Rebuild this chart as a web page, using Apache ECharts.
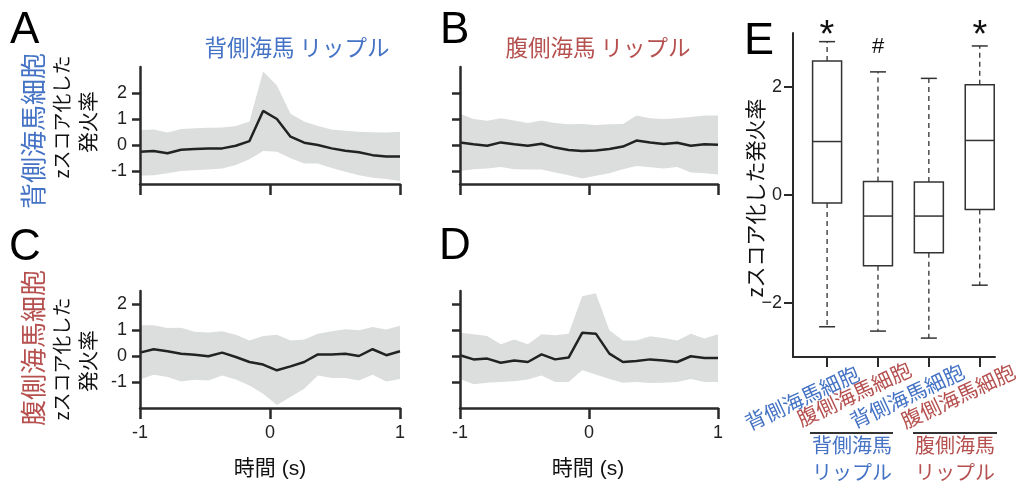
<!DOCTYPE html>
<html>
<head>
<meta charset="utf-8">
<script src="https://cdn.jsdelivr.net/npm/echarts@6/dist/echarts.min.js"></script>
<style>
html,body{margin:0;padding:0;background:#fff;}
#c{width:1020px;height:483px;}
</style>
</head>
<body>
<div id="c"></div>
<script>
// ---- data ----
const times = [-1, -0.895, -0.789, -0.684, -0.579, -0.474, -0.368, -0.263, -0.158, -0.053, 0.053, 0.158, 0.263, 0.368, 0.474, 0.579, 0.684, 0.789, 0.895, 1];

const meanA  = [-0.26,-0.23,-0.32,-0.18,-0.15,-0.13,-0.13,-0.03,0.15,1.31,1.0,0.32,0.09,0.0,-0.13,-0.22,-0.28,-0.39,-0.44,-0.44];
const upperA = [0.58,0.6,0.48,0.62,0.64,0.66,0.67,0.73,0.9,2.83,2.29,1.2,0.9,0.73,0.6,0.55,0.51,0.49,0.48,0.51];
const lowerA = [-1.18,-1.16,-1.09,-1.0,-0.97,-0.94,-0.9,-0.77,-0.55,-0.23,-0.26,-0.51,-0.71,-0.71,-0.88,-1.03,-1.16,-1.26,-1.31,-1.38];

const meanB  = [0.1,0.03,-0.03,0.1,0.03,-0.03,0.05,-0.1,-0.19,-0.23,-0.21,-0.15,-0.06,0.17,0.1,0.04,0.09,-0.03,0.03,0.01];
const upperB = [1.2,1.0,0.93,1.03,0.94,0.85,0.94,0.85,0.8,0.81,0.77,0.8,0.81,1.13,1.03,1.0,1.03,1.08,1.13,1.13];
const lowerB = [-1.0,-0.93,-0.9,-0.85,-0.93,-0.94,-0.94,-1.06,-1.16,-1.29,-1.18,-1.09,-0.93,-0.81,-0.86,-0.9,-0.85,-1.06,-1.09,-1.13];

const meanC  = [0.13,0.26,0.18,0.09,0.05,-0.01,0.13,-0.04,-0.23,-0.33,-0.55,-0.4,-0.23,0.06,0.06,0.09,0.0,0.26,0.03,0.18];
const upperC = [1.18,1.18,1.08,1.09,0.93,0.9,0.95,0.82,0.6,0.77,0.82,0.6,0.63,0.86,0.95,1.03,0.99,1.12,1.02,1.16];
const lowerC = [-0.9,-0.72,-0.81,-0.98,-0.91,-0.94,-0.75,-0.9,-1.13,-1.45,-1.88,-1.58,-1.26,-0.75,-0.85,-0.85,-0.94,-0.72,-0.98,-0.88];

const meanD  = [0.03,-0.13,-0.1,-0.26,-0.17,-0.23,0.06,-0.13,-0.06,0.89,0.86,0.09,-0.23,-0.19,-0.13,-0.17,-0.23,-0.01,-0.08,-0.08];
const upperD = [0.89,0.84,0.77,0.45,0.63,0.45,0.84,0.8,0.86,2.3,2.41,0.99,0.6,0.6,0.76,0.69,0.6,0.86,0.67,0.84];
const lowerD = [-0.88,-1.09,-1.03,-1.0,-0.97,-0.9,-0.75,-1.0,-1.0,-0.55,-0.71,-0.88,-1.03,-1.0,-1.04,-1.03,-1.0,-0.88,-1.0,-1.0];

const timeTicks = [-1, 0, 1];
const rateTicks = [-1, 0, 1, 2];

// panel E box plot
const boxCategories = ['背側海馬細胞', '腹側海馬細胞', '背側海馬細胞', '腹側海馬細胞'];
const boxPositions = [1, 2, 3, 4];
const boxMax    = [2.84, 2.28, 2.16, 2.76];
const boxQ3     = [2.48, 0.25, 0.24, 2.04];
const boxMedian = [0.99, -0.39, -0.39, 1.01];
const boxQ1     = [-0.15, -1.31, -1.07, -0.27];
const boxMin    = [-2.44, -2.52, -2.65, -1.67];
const boxMarks  = ['*', '#', '', '*'];
const boxTicks  = [-2, 0, 2];

// ---- style ----
const BLUE = '#4472C4';
const RED = '#B5504F';
const AX = '#2a2a2a';
const BAND = '#dcdedd';
const NUMF = '"Liberation Sans", Arial, sans-serif';
const CJKF = '"Noto Sans CJK JP", sans-serif';
const MIXF = '"Liberation Sans", "Noto Sans CJK JP", sans-serif';

const chart = echarts.init(document.getElementById('c'), null, {renderer: 'canvas'});

const grids = [
  {left: 140, top: 67, width: 260, height: 117},
  {left: 460, top: 67, width: 258, height: 117},
  {left: 140, top: 291, width: 260, height: 117},
  {left: 460, top: 291, width: 258, height: 117},
  {left: 793, top: 33, width: 202, height: 324}
];

function timeAxis(i, showLabel) {
  return {
    type: 'value', gridIndex: i, min: -1, max: 1, z: 5,
    axisLine: {show: true, onZero: false, lineStyle: {color: AX, width: 2.5}},
    axisTick: {show: true, length: 11, lineStyle: {color: AX, width: 2.5}, customValues: timeTicks},
    axisLabel: {show: showLabel, customValues: timeTicks, color: '#222', fontSize: 18, fontFamily: NUMF, margin: 16},
    splitLine: {show: false}
  };
}
function rateAxis(i, min, max, showLabel) {
  return {
    type: 'value', gridIndex: i, min: min, max: max, z: 5,
    axisLine: {show: true, onZero: false, lineStyle: {color: AX, width: 2.5}},
    axisTick: {show: true, length: 8, lineStyle: {color: AX, width: 2.5}, customValues: rateTicks},
    axisLabel: {show: showLabel, customValues: rateTicks, color: '#222', fontSize: 18, fontFamily: NUMF, margin: 13},
    splitLine: {show: false}
  };
}

const xAxes = [
  timeAxis(0, false), timeAxis(1, false), timeAxis(2, true), timeAxis(3, true),
  {
    type: 'value', gridIndex: 4, min: 0.33, max: 4.3, z: 5,
    axisLine: {show: true, onZero: false, lineStyle: {color: AX, width: 2}},
    axisTick: {show: true, length: 10, lineStyle: {color: AX, width: 2}, customValues: boxPositions},
    axisLabel: {show: false},
    splitLine: {show: false}
  }
];
const yAxes = [
  rateAxis(0, -1.5, 3, true), rateAxis(1, -1.5, 3, false),
  rateAxis(2, -2, 2.5, true), rateAxis(3, -2, 2.5, false),
  {
    type: 'value', gridIndex: 4, min: -3, max: 3, z: 5,
    axisLine: {show: true, onZero: false, lineStyle: {color: AX, width: 2}},
    axisTick: {show: true, length: 9, lineStyle: {color: AX, width: 2}, customValues: boxTicks},
    axisLabel: {show: true, customValues: boxTicks, color: '#222', fontSize: 18, fontFamily: NUMF, margin: 11,
      formatter: v => v < 0 ? '\u2212' + (-v) : String(v)},
    splitLine: {show: false}
  }
];

function panelSeries(i, mean, upper, lower) {
  return [
    {
      type: 'custom', xAxisIndex: i, yAxisIndex: i, silent: true, z: 1,
      data: times.map((t, k) => [t, lower[k], upper[k]]),
      encode: {x: 0, y: [1, 2]},
      renderItem: function (params, api) {
        if (params.dataIndex !== 0) return null;
        const pts = [];
        for (let k = 0; k < times.length; k++) pts.push(api.coord([times[k], upper[k]]));
        for (let k = times.length - 1; k >= 0; k--) pts.push(api.coord([times[k], lower[k]]));
        return {type: 'polygon', shape: {points: pts}, style: {fill: BAND, stroke: null}};
      }
    },
    {
      type: 'line', xAxisIndex: i, yAxisIndex: i,
      data: times.map((t, k) => [t, mean[k]]),
      symbol: 'none', silent: true,
      lineStyle: {color: '#222', width: 2.5}, z: 3
    }
  ];
}

const boxData = boxPositions.map((p, i) => [p, boxMin[i], boxQ1[i], boxMedian[i], boxQ3[i], boxMax[i]]);

const boxSeries = {
  type: 'custom', xAxisIndex: 4, yAxisIndex: 4, data: boxData, silent: true, z: 3,
  encode: {x: 0, y: [1, 2, 3, 4, 5]},
  renderItem: function (params, api) {
    const x = api.value(0);
    const pMin = api.coord([x, api.value(1)]);
    const pQ1 = api.coord([x, api.value(2)]);
    const pMed = api.coord([x, api.value(3)]);
    const pQ3 = api.coord([x, api.value(4)]);
    const pMax = api.coord([x, api.value(5)]);
    const cx = pMed[0];
    const half = 14.5, cap = 8;
    const solid = {stroke: '#333', lineWidth: 1.5, fill: null};
    const dashed = {stroke: '#333', lineWidth: 1.3, lineDash: [5, 4], fill: null};
    return {
      type: 'group',
      children: [
        {type: 'line', shape: {x1: cx, y1: pQ3[1], x2: cx, y2: pMax[1]}, style: dashed},
        {type: 'line', shape: {x1: cx, y1: pQ1[1], x2: cx, y2: pMin[1]}, style: dashed},
        {type: 'line', shape: {x1: cx - cap, y1: pMax[1], x2: cx + cap, y2: pMax[1]}, style: solid},
        {type: 'line', shape: {x1: cx - cap, y1: pMin[1], x2: cx + cap, y2: pMin[1]}, style: solid},
        {type: 'rect', shape: {x: cx - half, y: pQ3[1], width: half * 2, height: pQ1[1] - pQ3[1]},
          style: {stroke: '#333', lineWidth: 1.5, fill: '#fff'}},
        {type: 'line', shape: {x1: cx - half, y1: pMed[1], x2: cx + half, y2: pMed[1]}, style: solid}
      ]
    };
  }
};

// ---- text / decorations ----
function txt(x, y, text, size, color, opts) {
  opts = opts || {};
  return {
    type: 'text', x: x, y: y, rotation: opts.rotation || 0, silent: true, z: 10,
    style: {
      text: text, fill: color || '#000', fontSize: size,
      fontFamily: opts.font || CJKF, align: opts.align || 'center',
      verticalAlign: 'middle', lineHeight: opts.lineHeight || undefined
    }
  };
}
const R90 = Math.PI / 2;
const R25 = 25 * Math.PI / 180;
const graphics = [
  txt(10, 31, 'A', 44, '#000', {align: 'left', font: NUMF}),
  txt(440, 31, 'B', 44, '#000', {align: 'left', font: NUMF}),
  txt(9, 248, 'C', 44, '#000', {align: 'left', font: NUMF}),
  txt(439, 247, 'D', 44, '#000', {align: 'left', font: NUMF}),
  txt(744, 42, 'E', 45, '#000', {align: 'left', font: NUMF}),

  txt(297, 47, '背側海馬 リップル', 22.5, BLUE),
  txt(598, 47, '腹側海馬 リップル', 22.5, RED),

  txt(33, 131, '背側海馬細胞', 26, BLUE, {rotation: R90}),
  txt(62, 117, 'zスコア化した', 19, '#111', {rotation: R90}),
  txt(88, 122, '発火率', 20.5, '#111', {rotation: R90}),
  txt(33, 348, '腹側海馬細胞', 26, RED, {rotation: R90}),
  txt(62, 359, 'zスコア化した', 19, '#111', {rotation: R90}),
  txt(88, 361, '発火率', 20.5, '#111', {rotation: R90}),

  txt(270, 469, '時間 (s)', 21, '#111', {font: MIXF}),
  txt(588, 469, '時間 (s)', 21, '#111', {font: MIXF}),

  txt(755, 198, 'zスコア化した発火率', 21, '#111', {rotation: R90}),

  txt(802, 398, boxCategories[0], 20.5, BLUE, {rotation: R25}),
  txt(854, 394, boxCategories[1], 20.5, RED, {rotation: R25}),
  txt(907, 396, boxCategories[2], 20.5, BLUE, {rotation: R25}),
  txt(958, 396, boxCategories[3], 20.5, RED, {rotation: R25}),

  {type: 'line', silent: true, shape: {x1: 810, y1: 433, x2: 893, y2: 433}, style: {stroke: '#333', lineWidth: 2}},
  {type: 'line', silent: true, shape: {x1: 913, y1: 433, x2: 997, y2: 433}, style: {stroke: '#333', lineWidth: 2}},
  txt(852, 459, '背側海馬\nリップル', 20, BLUE, {lineHeight: 27}),
  txt(955, 459, '腹側海馬\nリップル', 20, RED, {lineHeight: 27}),

  txt(827, 37, boxMarks[0], 38, '#111', {font: NUMF}),
  txt(878, 47, boxMarks[1], 22, '#111', {font: NUMF}),
  txt(980, 37, boxMarks[3], 38, '#111', {font: NUMF})
];

chart.setOption({
  animation: false,
  backgroundColor: '#fff',
  grid: grids,
  xAxis: xAxes,
  yAxis: yAxes,
  series: [].concat(
    panelSeries(0, meanA, upperA, lowerA),
    panelSeries(1, meanB, upperB, lowerB),
    panelSeries(2, meanC, upperC, lowerC),
    panelSeries(3, meanD, upperD, lowerD),
    [boxSeries]
  ),
  graphic: graphics
});
</script>
</body>
</html>
